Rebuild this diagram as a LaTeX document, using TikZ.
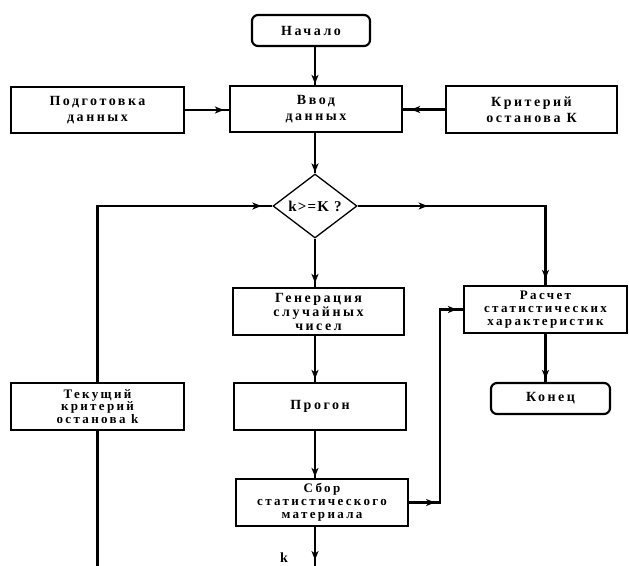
\documentclass[tikz,border=0pt]{standalone}
\usepackage{fontspec}
\newfontfamily\lsfont{Liberation Serif}[LetterSpace=18]
\newfontfamily\dfont{Liberation Serif}[LetterSpace=8]
\usetikzlibrary{arrows.meta,decorations.markings,shapes.geometric}
\tikzset{
  x=1pt, y=-1pt,
  ahead/.tip={Stealth[length=9pt,width=7pt,inset=2.5pt]},
  lead/.style={font={\lsfont\bfseries\fontsize{14}{#1}\selectfont}},
  slead/.style={font={\lsfont\bfseries\fontsize{13}{#1}\selectfont}},
  box/.style={draw, line width=2.2pt, inner sep=0pt, align=center, lead=16},
  term/.style={box, rounded corners=6pt},
  conn/.style={line width=2.2pt},
  arr/.style={postaction={decorate, decoration={markings, mark=at position #1 with {\arrow{ahead}}}}},
}
\begin{document}
\begin{tikzpicture}
\useasboundingbox (0,0) rectangle (629,565);
% nodes
\node[term, minimum width=118pt, minimum height=31pt] (nach) at (311,30.5) {Начало};
\node[box, minimum width=172pt, minimum height=46pt] (vvod) at (316,109) {Ввод\\данных};
\node[box, minimum width=173pt, minimum height=46pt] (podg) at (97.5,110) {Подготовка\\данных};
\node[box, minimum width=171pt, minimum height=47pt] (krit) at (531.5,109.5) {Критерий\\останова К};
\node[draw, diamond, line width=1.3pt, minimum width=84pt, minimum height=64pt, inner sep=0pt, font={\dfont\bfseries\fontsize{15}{15}\selectfont}] (dia) at (315,206) {k>=K ?};
\node[box, lead=14, minimum width=171pt, minimum height=47pt] (gen) at (318.5,311.5) {Генерация\\случайных\\чисел};
\node[box, slead=13, minimum width=163pt, minimum height=47pt] (rasch) at (545.5,309.5) {Расчет\\статистических\\характеристик};
\node[box, slead=12.5, minimum width=173pt, minimum height=47pt] (tek) at (97.5,406.5) {Текущий\\критерий\\останова k};
\node[box, minimum width=172pt, minimum height=47pt] (prog) at (320,406.5) {Прогон};
\node[term, minimum width=119pt, minimum height=31pt] (kon) at (550.5,398.5) {Конец};
\node[box, slead=13, minimum width=172pt, minimum height=47pt] (sbor) at (322,502.5) {Сбор\\статистического\\материала};
\node[lead=14] (klab) at (284,558) {k};
\coordinate (bot) at (0,566);
\coordinate (jx) at (440,0);
% connectors
\draw[conn, arr=-1pt] (nach.south -| dia) -- (vvod.north -| dia);
\draw[conn, arr=-5pt] (podg.east) -- (vvod.west |- podg.east);
\draw[conn, arr=-8pt] (krit.west) -- (vvod.east |- krit.west);
\draw[conn, arr=-1pt] (vvod.south -| dia) -- (dia.north);
\draw[conn, arr=-4pt] (dia.south) -- (gen.north -| dia);
\draw[conn, arr=-3pt] (gen.south -| dia) -- (prog.north -| dia);
\draw[conn, arr=-1pt] (prog.south -| dia) -- (sbor.north -| dia);
\draw[conn, arr=-6pt] (sbor.south -| dia) -- (bot -| dia);
\draw[conn, arr=70pt, arr=-6pt] (dia.east) -| (rasch.north);
\draw[conn, arr=-3pt] (rasch.south) -- (kon.north -| rasch.south);
\draw[conn, arr=26pt, arr=-6pt] (sbor.east) -- (sbor.east -| jx) -- (jx |- rasch.west) -- (rasch.west);
\draw[conn, arr=-11pt] (tek.north) -- (tek.north |- dia.west) -- (dia.west);
\draw[conn] (tek.south) -- (tek.south |- bot);
\end{tikzpicture}
\end{document}
